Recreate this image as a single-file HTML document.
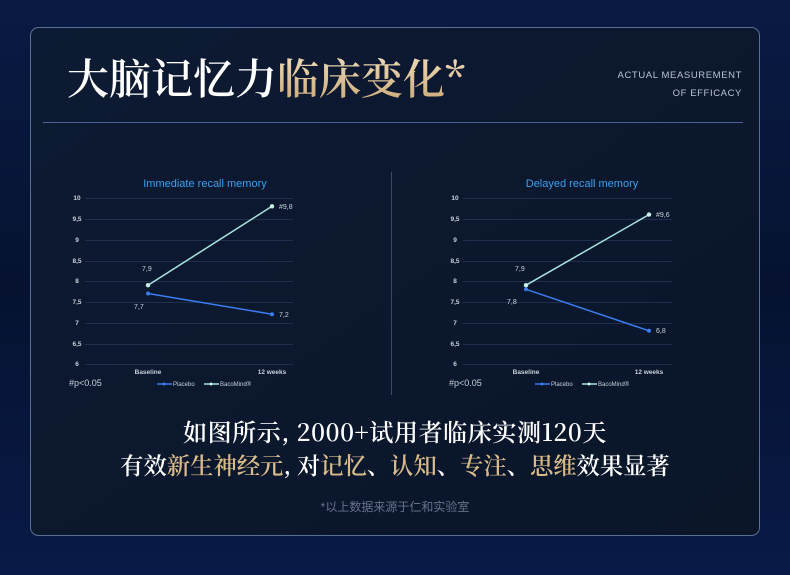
<!DOCTYPE html>
<html><head><meta charset="utf-8"><style>
html,body{margin:0;padding:0;width:790px;height:575px;overflow:hidden;background:#06102a;}
svg{display:block}
</style></head><body>
<svg width="790" height="575" viewBox="0 0 790 575" xmlns="http://www.w3.org/2000/svg">
<defs>
<linearGradient id="bg" x1="0" y1="0" x2="0" y2="1">
<stop offset="0" stop-color="#0a1a44"/><stop offset="0.5" stop-color="#061230"/><stop offset="1" stop-color="#091a48"/>
</linearGradient>
<linearGradient id="card" x1="0" y1="0" x2="1" y2="1">
<stop offset="0" stop-color="#0c1a33"/><stop offset="1" stop-color="#0a1528"/>
</linearGradient>
<linearGradient id="gold" x1="0" y1="0" x2="0" y2="1">
<stop offset="0" stop-color="#f3e2c2"/><stop offset="1" stop-color="#c9a673"/>
</linearGradient>
</defs>
<rect width="790" height="575" fill="url(#bg)"/>
<rect x="30.5" y="27.5" width="729" height="508" rx="8" fill="url(#card)" stroke="#5a6f96" stroke-width="1"/>
<text x="67" y="94" font-family="'Noto Serif CJK SC',serif" font-size="42" font-weight="600" fill="#ffffff">大脑记忆力<tspan fill="url(#gold)">临床变化*</tspan></text>
<text x="742" y="78" text-anchor="end" font-family="'Liberation Sans',sans-serif" font-size="9.5" letter-spacing="0.6" fill="#b8c2d4">ACTUAL MEASUREMENT</text>
<text x="742" y="96" text-anchor="end" font-family="'Liberation Sans',sans-serif" font-size="9.5" letter-spacing="0.6" fill="#b8c2d4">OF EFFICACY</text>
<line x1="43" y1="122.5" x2="743" y2="122.5" stroke="#4a6394" stroke-width="1"/>
<line x1="391.5" y1="172" x2="391.5" y2="395" stroke="#3a4a66" stroke-width="1"/>

<g font-family="'Liberation Sans',sans-serif">
<!-- left chart -->
<g>
<text x="205" y="187" text-anchor="middle" font-size="11" fill="#3aa0f0">Immediate recall memory</text>
<g stroke="#1e2f4e" stroke-width="1">
<line x1="85" y1="198.5" x2="293" y2="198.5"/><line x1="85" y1="219.5" x2="293" y2="219.5"/><line x1="85" y1="240.5" x2="293" y2="240.5"/><line x1="85" y1="261.5" x2="293" y2="261.5"/><line x1="85" y1="281.5" x2="293" y2="281.5"/><line x1="85" y1="302.5" x2="293" y2="302.5"/><line x1="85" y1="323.5" x2="293" y2="323.5"/><line x1="85" y1="344.5" x2="293" y2="344.5"/><line x1="85" y1="364.5" x2="293" y2="364.5"/>
</g>
<g font-size="6.5" font-weight="bold" fill="#c8d0dc" text-anchor="middle">
<text x="77" y="200">10</text><text x="77" y="221">9,5</text><text x="77" y="242">9</text><text x="77" y="263">8,5</text><text x="77" y="283">8</text><text x="77" y="304">7,5</text><text x="77" y="325">7</text><text x="77" y="346">6,5</text><text x="77" y="366">6</text>
<text x="148" y="374">Baseline</text><text x="272" y="374">12 weeks</text>
</g>
<polyline points="148,293.5 272,314.2" fill="none" stroke="#3b7cf0" stroke-width="1.5"/>
<polyline points="148,285.2 272,206.3" fill="none" stroke="#a8e4e0" stroke-width="1.5"/>
<circle cx="148" cy="293.5" r="2" fill="#3b7cf0"/><circle cx="272" cy="314.2" r="2" fill="#3b7cf0"/>
<circle cx="148" cy="285.2" r="2.2" fill="#c8f0ea"/><circle cx="272" cy="206.3" r="2.2" fill="#c8f0ea"/>
<g font-size="7" fill="#c8d0dc">
<text x="142" y="271">7,9</text><text x="134" y="309">7,7</text><text x="279" y="317">7,2</text><text x="279" y="209">#9,8</text>
</g>
<text x="69" y="386" font-size="9" fill="#c8d0dc">#p&lt;0.05</text>
<line x1="157" y1="384" x2="172" y2="384" stroke="#3b7cf0" stroke-width="1.5"/><circle cx="164" cy="384" r="1.5" fill="#3b7cf0"/>
<text x="173" y="386" font-size="6" fill="#c8d0dc">Placebo</text>
<line x1="204" y1="384" x2="219" y2="384" stroke="#a8e4e0" stroke-width="1.5"/><circle cx="211" cy="384" r="1.5" fill="#c8f0ea"/>
<text x="220" y="386" font-size="6" fill="#c8d0dc">BacoMind®</text>
</g>
<!-- right chart -->
<g>
<text x="582" y="187" text-anchor="middle" font-size="11" fill="#3aa0f0">Delayed recall memory</text>
<g stroke="#1e2f4e" stroke-width="1">
<line x1="463" y1="198.5" x2="672" y2="198.5"/><line x1="463" y1="219.5" x2="672" y2="219.5"/><line x1="463" y1="240.5" x2="672" y2="240.5"/><line x1="463" y1="261.5" x2="672" y2="261.5"/><line x1="463" y1="281.5" x2="672" y2="281.5"/><line x1="463" y1="302.5" x2="672" y2="302.5"/><line x1="463" y1="323.5" x2="672" y2="323.5"/><line x1="463" y1="344.5" x2="672" y2="344.5"/><line x1="463" y1="364.5" x2="672" y2="364.5"/>
</g>
<g font-size="6.5" font-weight="bold" fill="#c8d0dc" text-anchor="middle">
<text x="455" y="200">10</text><text x="455" y="221">9,5</text><text x="455" y="242">9</text><text x="455" y="263">8,5</text><text x="455" y="283">8</text><text x="455" y="304">7,5</text><text x="455" y="325">7</text><text x="455" y="346">6,5</text><text x="455" y="366">6</text>
<text x="526" y="374">Baseline</text><text x="649" y="374">12 weeks</text>
</g>
<polyline points="526,289.3 649,330.8" fill="none" stroke="#3b7cf0" stroke-width="1.5"/>
<polyline points="526,285.2 649,214.6" fill="none" stroke="#a8e4e0" stroke-width="1.5"/>
<circle cx="526" cy="289.3" r="2" fill="#3b7cf0"/><circle cx="649" cy="330.8" r="2" fill="#3b7cf0"/>
<circle cx="526" cy="285.2" r="2.2" fill="#c8f0ea"/><circle cx="649" cy="214.6" r="2.2" fill="#c8f0ea"/>
<g font-size="7" fill="#c8d0dc">
<text x="515" y="271">7,9</text><text x="507" y="304">7,8</text><text x="656" y="333">6,8</text><text x="656" y="217">#9,6</text>
</g>
<text x="449" y="386" font-size="9" fill="#c8d0dc">#p&lt;0.05</text>
<line x1="535" y1="384" x2="550" y2="384" stroke="#3b7cf0" stroke-width="1.5"/><circle cx="542" cy="384" r="1.5" fill="#3b7cf0"/>
<text x="551" y="386" font-size="6" fill="#c8d0dc">Placebo</text>
<line x1="582" y1="384" x2="597" y2="384" stroke="#a8e4e0" stroke-width="1.5"/><circle cx="589" cy="384" r="1.5" fill="#c8f0ea"/>
<text x="598" y="386" font-size="6" fill="#c8d0dc">BacoMind®</text>
</g>
</g>

<g font-family="'Noto Serif CJK SC',serif" font-weight="600" text-anchor="middle">
<text x="395" y="441" fill="#ffffff" font-size="24" letter-spacing="0.6">如图所示, 2000+试用者临床实测120天</text>
<text x="395" y="474" fill="#ffffff" font-size="23.3">有效<tspan fill="#d9bb8a">新生神经元</tspan>, 对<tspan fill="#d9bb8a">记忆</tspan>、<tspan fill="#d9bb8a">认知</tspan>、<tspan fill="#d9bb8a">专注</tspan>、<tspan fill="#d9bb8a">思维</tspan>效果显著</text>
</g>
<text x="395" y="511" text-anchor="middle" font-family="'Liberation Sans','Noto Sans CJK SC',sans-serif" font-size="12" fill="#66728a">*以上数据来源于仁和实验室</text>
</svg>
</body></html>
